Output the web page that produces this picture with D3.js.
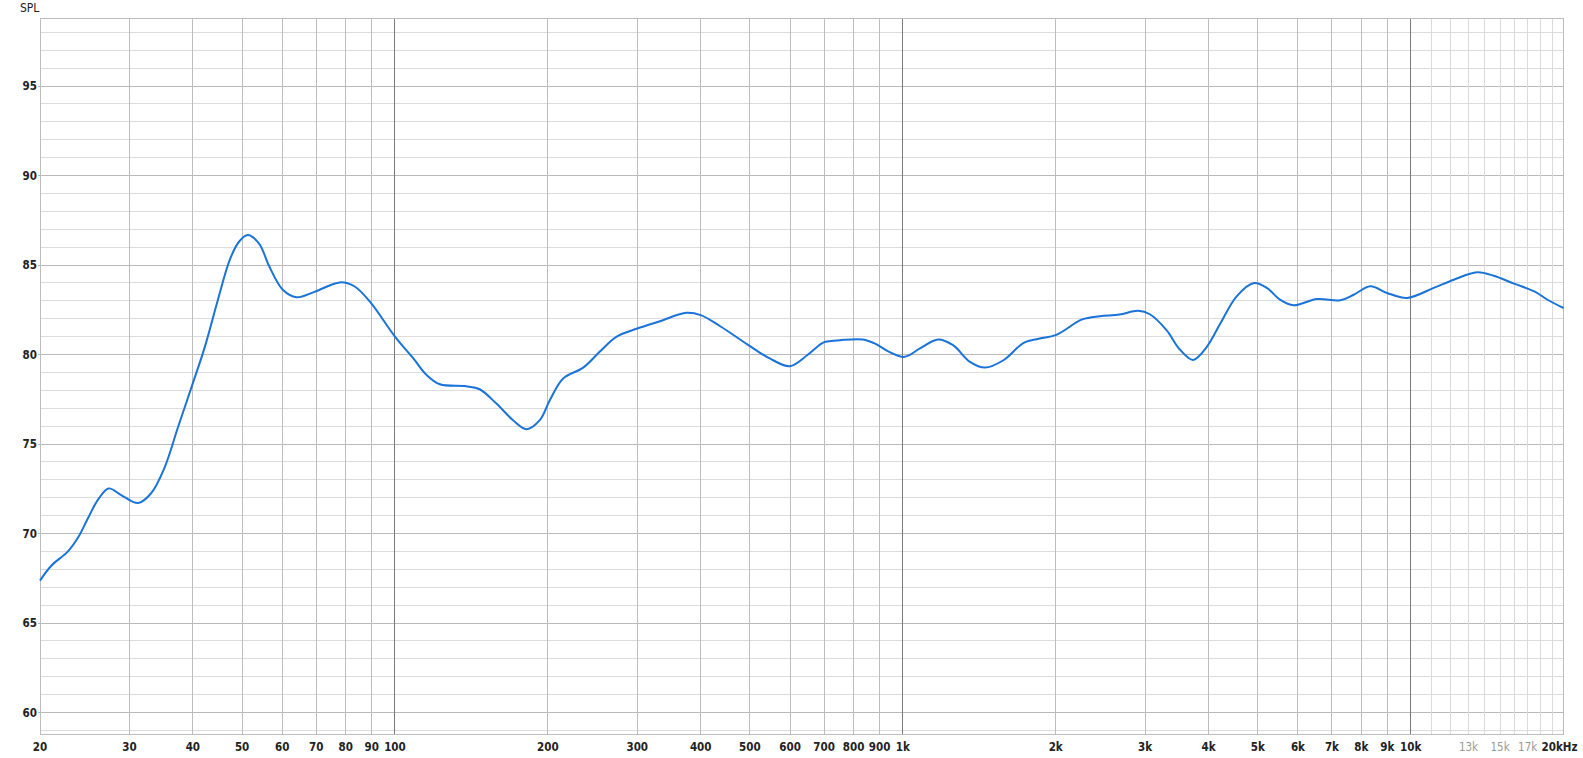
<!DOCTYPE html>
<html>
<head>
<meta charset="utf-8">
<script src="https://cdn.jsdelivr.net/npm/d3@7"></script>
<style>
  html, body { margin: 0; padding: 0; background: #fff; }
  svg text { font-family: "Liberation Sans Narrow", "DejaVu Sans Condensed", sans-serif; }
</style>
</head>
<body>
<div id="chart"></div>
<script>
// Frequency response (Hz -> dB SPL)
const freqs = [20, 21.05, 22.7, 23.8, 24.9, 26.1, 27.3, 28.9, 31.2, 33.1, 35.2, 37.4, 40, 42.2, 44.8, 47.3, 49.3, 51.3, 54, 56.6,
  60.2, 64, 69.4, 77.9, 83.3, 89.8, 100, 108.7, 115.5, 122.6, 138, 146.8, 158.4, 170.8, 181.6, 192.8, 201.8, 214.4, 234.8, 253,
  272.8, 300, 332.6, 375, 400, 437, 500, 547, 599, 648, 689, 704, 752, 834, 886, 940, 1008, 1081, 1173, 1256,
  1356, 1452, 1578, 1730, 1860, 2000, 2256, 2442, 2670, 2908, 3066, 3306, 3512, 3729, 3962, 4214, 4544, 4916, 5210, 5534,
  5880, 6540, 7274, 7726, 8332, 8986, 9840, 11100, 12160, 13520, 14580, 15980, 17520, 18600, 20000];
const spl = [67.37, 68.2, 69.0, 69.8, 70.9, 71.95, 72.52, 72.15, 71.7, 72.25, 73.7, 75.95, 78.4, 80.4, 83.05, 85.3, 86.3, 86.68, 86.2, 84.9,
  83.6, 83.2, 83.5, 84.03, 83.8, 82.86, 81.0, 79.78, 78.85, 78.34, 78.23, 78.06, 77.26, 76.33, 75.83, 76.33, 77.45, 78.66, 79.27, 80.15,
  80.99, 81.45, 81.86, 82.33, 82.2, 81.58, 80.47, 79.78, 79.35, 79.96, 80.58, 80.71, 80.8, 80.84, 80.58, 80.15, 79.87, 80.34, 80.84, 80.52,
  79.59, 79.27, 79.68, 80.65, 80.89, 81.08, 81.96, 82.14, 82.23, 82.44, 82.25, 81.36, 80.28, 79.7, 80.4, 81.7, 83.25, 83.99, 83.72, 83.06,
  82.75, 83.1, 83.03, 83.34, 83.81, 83.44, 83.16, 83.72, 84.18, 84.59, 84.4, 83.96, 83.53, 83.06, 82.6];

// Axis ticks
const xTicks = [20, 30, 40, 50, 60, 70, 80, 90, 100, 200, 300, 400, 500, 600, 700, 800, 900,
  1000, 2000, 3000, 4000, 5000, 6000, 7000, 8000, 9000, 10000, 13000, 15000, 17000, 20000];
const xTickLabels = ['20', '30', '40', '50', '60', '70', '80', '90', '100', '200', '300', '400', '500', '600', '700', '800', '900',
  '1k', '2k', '3k', '4k', '5k', '6k', '7k', '8k', '9k', '10k', '13k', '15k', '17k', '20kHz'];
const greyLabels = [13000, 15000, 17000];
const decadeLines = [100, 1000, 10000];
const highLines = [11000, 12000, 13000, 14000, 15000, 16000, 17000, 18000, 19000];
const yTicks = [60, 65, 70, 75, 80, 85, 90, 95];
const yMinor = d3.range(59, 99);

const W = 1583, H = 758;
const plotLeft = 40, plotRight = 1563.5, plotTop = 18, plotBottom = 734;

const svg = d3.select('#chart').append('svg')
  .attr('width', W)
  .attr('height', H);

const x = d3.scaleLog().domain([20, 20000]).range([plotLeft, plotRight]);
const y = d3.scaleLinear().domain([58.8, 98.8]).range([plotBottom, plotTop]);

const grid = svg.append('g').attr('shape-rendering', 'crispEdges');

// Horizontal grid: 1 dB minor, 5 dB major
grid.selectAll('.hminor')
  .data(yMinor.filter(d => d % 5 !== 0))
  .enter().append('line')
  .attr('x1', plotLeft).attr('x2', plotRight)
  .attr('y1', d => y(d)).attr('y2', d => y(d))
  .attr('stroke', '#dcdcdc');
grid.selectAll('.hmajor')
  .data(yTicks)
  .enter().append('line')
  .attr('x1', plotLeft - 2).attr('x2', plotRight)
  .attr('y1', d => y(d)).attr('y2', d => y(d))
  .attr('stroke', '#b9b9b9');

// Vertical grid
grid.selectAll('.vhigh')
  .data(highLines)
  .enter().append('line')
  .attr('x1', d => x(d)).attr('x2', d => x(d))
  .attr('y1', plotTop).attr('y2', plotBottom)
  .attr('stroke', '#dadada');
grid.selectAll('.vnorm')
  .data(xTicks.filter(d => d <= 9000 && !decadeLines.includes(d)))
  .enter().append('line')
  .attr('x1', d => x(d)).attr('x2', d => x(d))
  .attr('y1', plotTop).attr('y2', plotBottom)
  .attr('stroke', '#bdbdbd');
grid.selectAll('.vdecade')
  .data(decadeLines)
  .enter().append('line')
  .attr('x1', d => x(d)).attr('x2', d => x(d))
  .attr('y1', plotTop).attr('y2', plotBottom)
  .attr('stroke', '#7a7a7a');

// Frame
grid.append('rect')
  .attr('x', plotLeft).attr('y', plotTop)
  .attr('width', plotRight - plotLeft).attr('height', plotBottom - plotTop)
  .attr('fill', 'none')
  .attr('stroke', '#bdbdbd');

// Axis labels
svg.append('g').selectAll('text')
  .data(yTicks)
  .enter().append('text')
  .attr('x', 37)
  .attr('y', d => y(d))
  .attr('dy', '0.35em')
  .attr('text-anchor', 'end')
  .attr('font-size', 11.5)
  .attr('font-weight', 'bold')
  .attr('fill', '#222')
  .text(d => d);

svg.append('g').selectAll('text')
  .data(xTicks)
  .enter().append('text')
  .attr('x', (d, i) => i === xTicks.length - 1 ? x(d) + 14 : x(d))
  .attr('y', 751)
  .attr('text-anchor', (d, i) => i === xTicks.length - 1 ? 'end' : 'middle')
  .attr('font-size', 11.5)
  .attr('font-weight', d => greyLabels.includes(d) ? 'normal' : 'bold')
  .attr('fill', d => greyLabels.includes(d) ? '#999' : '#222')
  .text((d, i) => xTickLabels[i]);

svg.append('text')
  .attr('x', 20)
  .attr('y', 12)
  .attr('font-size', 12)
  .attr('fill', '#222')
  .text('SPL');

// Response curve
const line = d3.line()
  .x((d, i) => x(freqs[i]))
  .y(d => y(d))
  .curve(d3.curveCatmullRom.alpha(0.5));

svg.append('path')
  .datum(spl)
  .attr('d', line)
  .attr('fill', 'none')
  .attr('stroke', '#1a73d8')
  .attr('stroke-width', 2);
</script>
</body>
</html>
